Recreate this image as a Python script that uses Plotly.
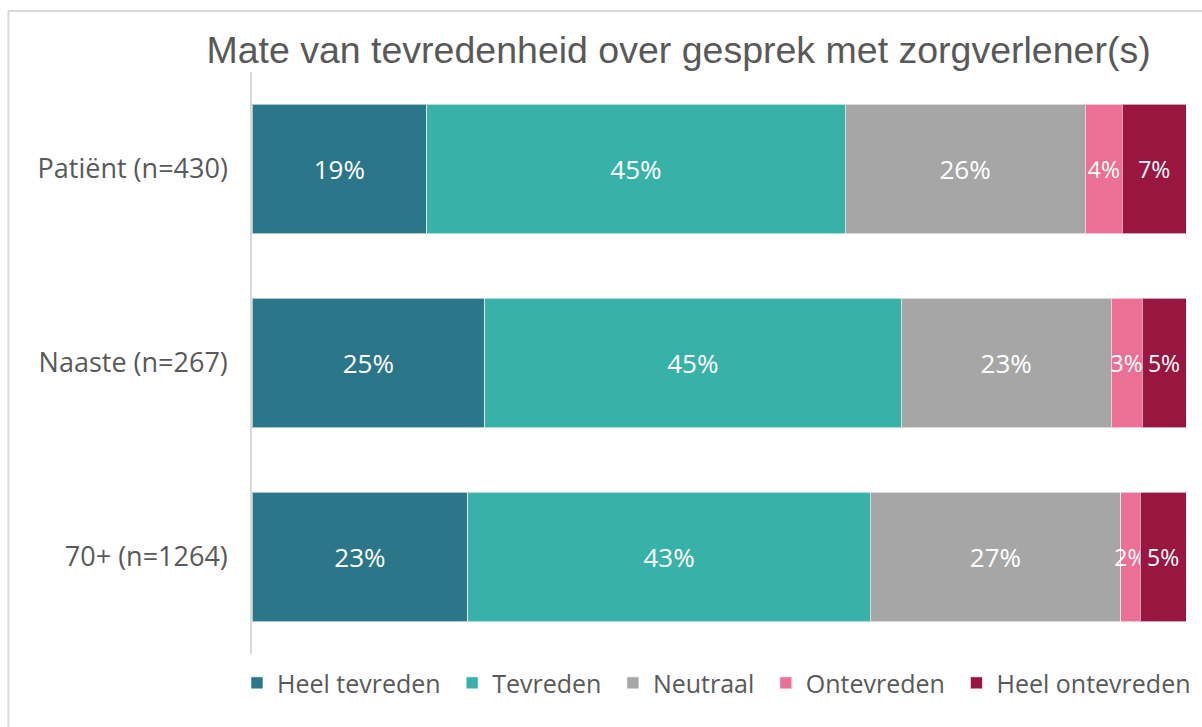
import plotly.graph_objects as go

categories = ["Patiënt (n=430)", "Naaste (n=267)", "70+ (n=1264)"]
series_names = ["Heel tevreden", "Tevreden", "Neutraal", "Ontevreden", "Heel ontevreden"]
heel_tevreden = [18.7, 24.9, 23.1]
tevreden = [44.8, 44.6, 43.1]
neutraal = [25.7, 22.5, 26.8]
ontevreden = [4.0, 3.3, 2.1]
heel_ontevreden = [6.8, 4.7, 4.9]
labels_heel_tevreden = ["19%", "25%", "23%"]
labels_tevreden = ["45%", "45%", "43%"]
labels_neutraal = ["26%", "23%", "27%"]
labels_ontevreden = ["4%", "3%", "2%"]
labels_heel_ontevreden = ["7%", "5%", "5%"]
colors = ["#2B7689", "#38B2A9", "#A6A6A6", "#EC6F96", "#98163F"]
label_sizes = [26, 26, 26, 23, 23]

values = [heel_tevreden, tevreden, neutraal, ontevreden, heel_ontevreden]
labels = [labels_heel_tevreden, labels_tevreden, labels_neutraal,
          labels_ontevreden, labels_heel_ontevreden]

fig = go.Figure()
for name, vals, lab, col, fs in zip(series_names, values, labels, colors, label_sizes):
    fig.add_trace(go.Bar(
        y=categories, x=vals, name=name + "\u00a0", orientation="h",
        marker=dict(color=col, line=dict(color="rgba(255,255,255,0.6)", width=1)),
        text=lab, texttemplate="%{text}", textposition="inside", textangle=0,
        insidetextanchor="middle", constraintext="none",
        insidetextfont=dict(family="Open Sans", size=fs, color="white"),
        hoverinfo="skip",
    ))

fig.update_layout(
    width=1202, height=727,
    barmode="stack", bargap=0.33,
    paper_bgcolor="white", plot_bgcolor="white",
    margin=dict(l=252, r=16, t=72, b=73),
    title=dict(text="Mate van tevredenheid over gesprek met zorgverlener(s)",
               x=0.5645, xanchor="center", xref="container",
               y=0.931, yanchor="middle", yref="container",
               font=dict(family="Liberation Sans", size=37.5, color="#595959")),
    xaxis=dict(range=[0, 100], visible=False, fixedrange=True),
    yaxis=dict(categoryorder="array", categoryarray=categories, autorange="reversed",
               showline=True, linecolor="#D9D9D9", linewidth=1.5, ticks="",
               ticklabelstandoff=17, showgrid=False, zeroline=False, fixedrange=True,
               tickfont=dict(family="Open Sans", size=27, color="#595959")),
    legend=dict(orientation="h", x=-0.0046, xanchor="left", y=-0.05, yanchor="middle",
                font=dict(family="Open Sans", size=25, color="#595959"),
                traceorder="normal", itemclick=False),
    showlegend=True,
    shapes=[dict(type="rect", xref="paper", yref="paper",
                 x0=-0.2607, x1=1.1, y0=-0.3, y1=1.1048,
                 line=dict(color="#D9D9D9", width=2), fillcolor="rgba(0,0,0,0)",
                 layer="below")],
)

fig.write_html("out.html", config={"displayModeBar": False},
               post_script="document.body.style.margin='0';")
